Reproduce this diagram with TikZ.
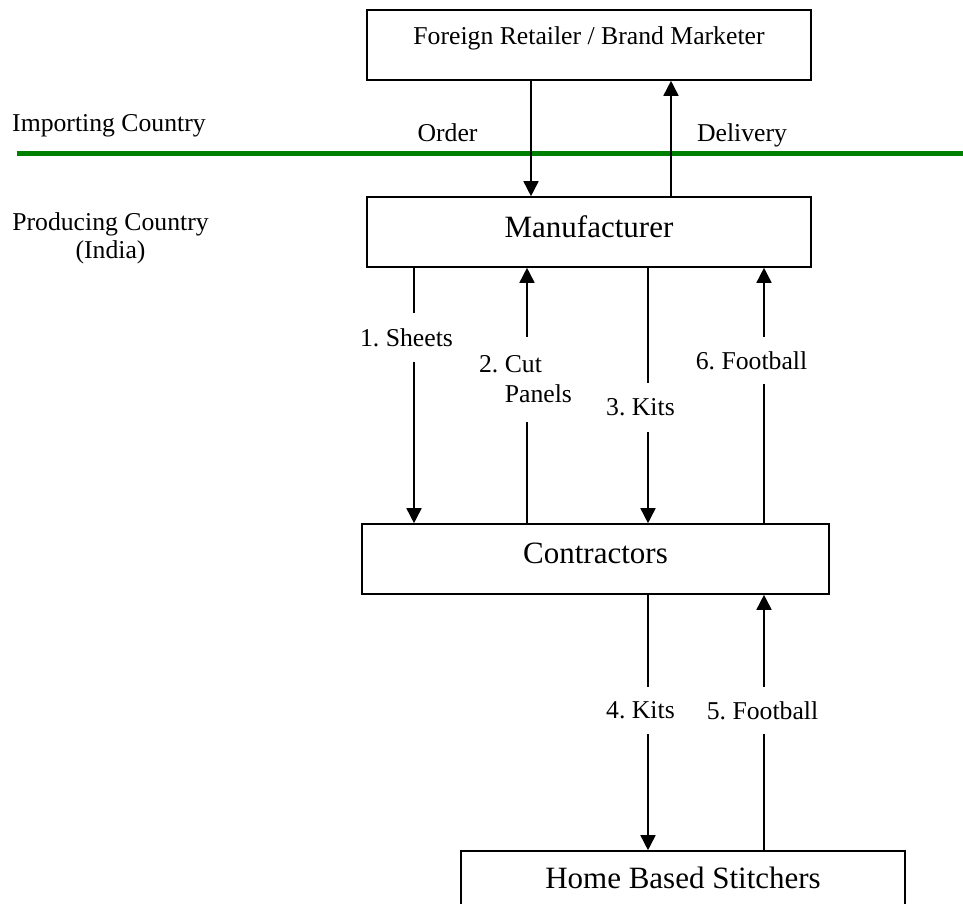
\documentclass[tikz,border=0pt]{standalone}
\usepackage{fontspec}
\setmainfont{Liberation Serif}
\usetikzlibrary{arrows.meta}
\definecolor{bordergreen}{RGB}{0,128,0}
\newcommand\smallfnt{\fontsize{25.7pt}{30pt}\selectfont\frenchspacing}
\newcommand\bigfnt{\fontsize{31pt}{36pt}\selectfont\frenchspacing}
\begin{document}
\begin{tikzpicture}[x=1pt,y=-1pt,
  box/.style={draw=black, line width=1.6pt, inner xsep=0pt, inner ysep=0pt},
  flow/.style={line width=1.6pt, -{Triangle[length=15pt,width=15pt]}},
  lbl/.style={fill=white, inner xsep=2pt, inner ysep=0pt, font=\smallfnt},
  txt/.style={inner sep=0pt, font=\smallfnt}]
\useasboundingbox (0,0) rectangle (963,904);
\clip (0,0) rectangle (963,904);

% actors
\node[box, font=\smallfnt, minimum width=444pt, text height=35pt, text depth=35pt]
  (fr) at (589,45) {Foreign Retailer / Brand Marketer};
\node[box, font=\bigfnt, minimum width=444pt, text height=40pt, text depth=30pt]
  (mf) at (589,232) {Manufacturer};
\node[box, font=\bigfnt, minimum width=467pt, text height=39pt, text depth=31pt]
  (ct) at (595.5,559) {Contractors};
\node[box, font=\bigfnt, minimum width=444pt, text height=37pt, text depth=33pt]
  (hb) at (683,886) {Home Based Stitchers};

% border between the two countries
\draw[bordergreen, line width=5pt] (17,154) -- (963,154);
\node[txt, anchor=base west] (imp) at (12,132) {Importing Country};
\node[txt, anchor=base, align=center, font=\fontsize{25.7pt}{28pt}\selectfont]
  (prod) at (110.5,258) {Producing Country\\(India)};

% x positions of the flows
\coordinate (xorder) at (531,0);
\coordinate (xdeliv) at (671,0);
\coordinate (xa) at (414,0);
\coordinate (xb) at (527,0);
\coordinate (xc) at (648,0);
\coordinate (xd) at (764,0);

% retailer <-> manufacturer
\draw[flow] (xorder |- fr.south) -- (xorder |- mf.north);
\draw[flow] (xdeliv |- mf.north) -- (xdeliv |- fr.south);
\node[txt, anchor=base] (lorder) at (447.5,142) {Order};
\node[txt, anchor=base] (ldeliv) at (742,142) {Delivery};

% manufacturer <-> contractors
\draw[flow] (xa |- mf.south) -- (xa |- ct.north);
\draw[flow] (xb |- ct.north) -- (xb |- mf.south);
\draw[flow] (xc |- mf.south) -- (xc |- ct.north);
\draw[flow] (xd |- ct.north) -- (xd |- mf.south);
\node[lbl, minimum height=49pt] (l1) at (406.5,337.5) {1. Sheets};
\node[lbl, minimum height=85pt, align=left] (l2) at (525.5,379.5) {2. Cut\\\phantom{2. }Panels};
\node[lbl, minimum height=49pt] (l3) at (640.5,407.5) {3. Kits};
\node[lbl, minimum height=47pt] (l6) at (751.5,360.5) {6. Football};

% contractors <-> home based stitchers
\draw[flow] (xc |- ct.south) -- (xc |- hb.north);
\draw[flow] (xd |- hb.north) -- (xd |- ct.south);
\node[lbl, minimum height=47pt] (l4) at (640.5,710.5) {4. Kits};
\node[lbl, minimum height=47pt] (l5) at (762.5,710.5) {5. Football};
\end{tikzpicture}
\end{document}
